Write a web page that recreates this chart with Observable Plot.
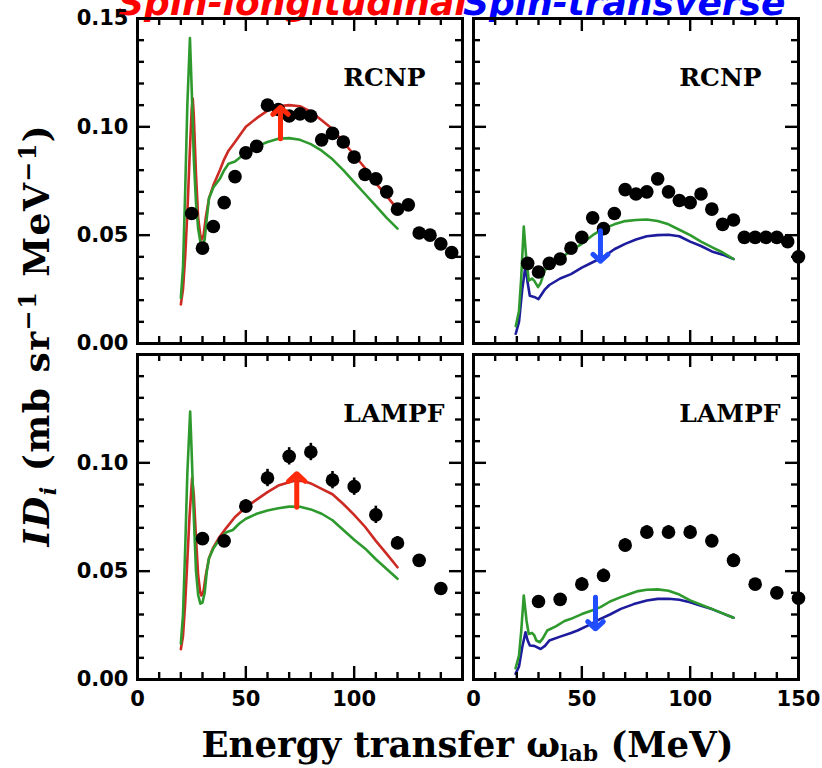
<!DOCTYPE html>
<html><head><meta charset="utf-8">
<script src="https://cdn.jsdelivr.net/npm/d3@7"></script>
<script src="https://cdn.jsdelivr.net/npm/@observablehq/plot@0.6"></script>
<style>
html,body{margin:0;padding:0;background:#fff;overflow:hidden;}
#wrap{position:relative;width:822px;height:768px;overflow:hidden;}
#wrap svg{position:absolute;left:0;top:0;}
.title{position:absolute;top:-15.5px;font-family:"DejaVu Sans";font-style:italic;font-weight:bold;font-size:36px;line-height:36px;white-space:nowrap;}
.xlab{position:absolute;left:467.5px;top:727px;transform:translateX(-50%);font-family:"DejaVu Serif";font-weight:bold;font-size:35.5px;line-height:35.5px;white-space:nowrap;}
.xlab .sub{top:0.2em;}
.ylab{position:absolute;left:17.5px;top:335px;transform-origin:0 0;transform:rotate(-90deg) translateX(-50%);font-family:"DejaVu Serif";font-weight:bold;font-size:36px;line-height:36px;letter-spacing:1.5px;white-space:nowrap;}
.sub{font-size:0.62em;position:relative;top:0.3em;}
.sup{font-size:0.66em;position:relative;top:-0.55em;}
</style></head><body>
<div id="wrap">
<div class="title" style="left:118px;color:#ff0000">Spin-longitudinal</div>
<div class="title" style="left:463px;color:#0000ff">Spin-transverse</div>
<div class="ylab"><i>ID</i><span class="sub"><i>i</i></span> (mb sr<span class="sup">−1</span> MeV<span class="sup">−1</span>)</div>
<div class="xlab">Energy transfer ω<span class="sub">lab</span> (MeV)</div>
</div>
<script>
// ---------- tick values ----------
const xMajor = [50, 100];
const xMinor = [10, 20, 30, 40, 60, 70, 80, 90, 110, 120, 130, 140];
const yMajor = [0.05, 0.10];
const yMinor = [0.01, 0.02, 0.03, 0.04, 0.06, 0.07, 0.08, 0.09, 0.11, 0.12, 0.13, 0.14];
const xLabelsLeft = [0, 50, 100];
const xLabelsRight = [0, 50, 100, 150];
const yLabelsTop = [0, 0.05, 0.10, 0.15];
const yLabelsBottom = [0, 0.05, 0.10];
const panelNames = ["RCNP", "LAMPF"];

// ---------- data: RCNP spin-longitudinal ----------
const rcnpLonX = [25, 30, 35, 40, 45, 50, 55, 60, 65, 70, 75, 80, 85, 90, 95, 100, 105, 110, 115, 120, 125, 130, 135, 140, 145];
const rcnpLonY = [0.060, 0.044, 0.054, 0.065, 0.077, 0.088, 0.091, 0.110, 0.108, 0.105, 0.106, 0.105, 0.094, 0.097, 0.093, 0.086, 0.078, 0.076, 0.070, 0.062, 0.064, 0.051, 0.050, 0.046, 0.042];
const rcnpLonRed = [[20,0.018],[21,0.025],[22,0.040],[23,0.060],[24,0.085],[25,0.108],[25.5,0.113],[26,0.105],[27,0.078],[28,0.058],[29,0.050],[29.7,0.048],[30.5,0.050],[31.5,0.058],[33,0.067],[35,0.073],[38,0.080],[40,0.085],[42,0.089],[45,0.093],[50,0.100],[55,0.104],[60,0.1075],[65,0.1095],[70,0.110],[75,0.1095],[80,0.107],[85,0.103],[90,0.099],[95,0.093],[100,0.087],[105,0.081],[110,0.074],[115,0.068],[120,0.062]];
const rcnpLonGreen = [[20,0.021],[21,0.035],[22,0.070],[23,0.110],[24.2,0.141],[25,0.118],[26,0.085],[27,0.065],[28,0.053],[29,0.047],[30,0.045],[31,0.048],[32,0.058],[33,0.067],[35,0.072],[38,0.076],[40,0.080],[42,0.083],[45,0.084],[50,0.088],[55,0.091],[60,0.093],[65,0.0945],[70,0.0948],[75,0.094],[80,0.092],[85,0.089],[90,0.085],[95,0.080],[100,0.0745],[105,0.069],[110,0.0635],[115,0.058],[120,0.053]];
const rcnpLonArrow = {x: 66, from: 0.0945, to: 0.109};

// ---------- data: RCNP spin-transverse ----------
const rcnpTrX = [25, 30, 35, 40, 45, 50, 55, 60, 65, 70, 75, 80, 85, 90, 95, 100, 105, 110, 115, 120, 125, 130, 135, 140, 145, 150];
const rcnpTrY = [0.037, 0.033, 0.037, 0.039, 0.044, 0.049, 0.058, 0.053, 0.060, 0.071, 0.069, 0.070, 0.076, 0.070, 0.066, 0.065, 0.069, 0.062, 0.055, 0.057, 0.049, 0.049, 0.049, 0.049, 0.047, 0.040];
const rcnpTrBlue = [[19.5,0.0045],[21,0.010],[22.5,0.025],[24,0.036],[25,0.028],[26,0.022],[28,0.0215],[30,0.0205],[31,0.022],[33,0.025],[35,0.027],[40,0.030],[45,0.032],[50,0.035],[55,0.0375],[60,0.040],[65,0.0435],[70,0.046],[75,0.048],[80,0.0495],[85,0.050],[90,0.0502],[95,0.0495],[100,0.047],[105,0.045],[110,0.0425],[115,0.041],[120,0.039]];
const rcnpTrGreen = [[19.5,0.008],[21,0.015],[22,0.030],[23.2,0.054],[24.3,0.040],[25.5,0.029],[27,0.030],[28,0.029],[29.8,0.026],[31,0.028],[33,0.034],[36,0.036],[40,0.039],[45,0.043],[50,0.046],[55,0.050],[60,0.053],[65,0.055],[70,0.0565],[75,0.057],[80,0.0572],[85,0.0565],[90,0.055],[95,0.0525],[100,0.050],[105,0.047],[110,0.0445],[115,0.042],[120,0.039]];
const rcnpTrArrow = {x: 58.6, from: 0.052, to: 0.038};

// ---------- data: LAMPF spin-longitudinal ----------
const lampfLonX = [30, 40, 50, 60, 70, 80, 90, 100, 110, 120, 130, 140];
const lampfLonY = [0.065, 0.064, 0.080, 0.093, 0.103, 0.105, 0.092, 0.089, 0.076, 0.063, 0.055, 0.042];
const lampfLonErr = [0.002, 0.002, 0.003, 0.004, 0.004, 0.004, 0.004, 0.004, 0.004, 0.003, 0.002, 0.002];
const lampfLonRed = [[20,0.014],[21,0.020],[22,0.035],[23,0.055],[24,0.075],[25.2,0.093],[26,0.085],[27,0.065],[28,0.048],[29,0.040],[29.5,0.0388],[30.5,0.041],[31.5,0.048],[33,0.056],[35,0.061],[38,0.066],[41,0.070],[45,0.075],[50,0.0795],[55,0.083],[60,0.0865],[65,0.0895],[70,0.091],[73,0.0918],[77,0.0915],[80,0.0905],[85,0.088],[90,0.0855],[95,0.081],[100,0.076],[105,0.0705],[110,0.064],[115,0.058],[120,0.0518]];
const lampfLonGreen = [[20,0.0165],[21,0.030],[22,0.060],[23,0.095],[24.3,0.1237],[25,0.105],[26,0.075],[27,0.050],[28,0.039],[29,0.035],[30,0.0355],[31,0.040],[32,0.050],[33,0.056],[35,0.0605],[38,0.065],[41,0.068],[44,0.069],[47,0.072],[50,0.0742],[55,0.0765],[60,0.078],[65,0.079],[70,0.0798],[75,0.0797],[80,0.0785],[85,0.0765],[90,0.0735],[95,0.069],[100,0.0645],[105,0.0605],[110,0.0555],[115,0.051],[120,0.0465]];
const lampfLonArrow = {x: 73.5, from: 0.0795, to: 0.095};

// ---------- data: LAMPF spin-transverse ----------
const lampfTrX = [30, 40, 50, 60, 70, 80, 90, 100, 110, 120, 130, 140, 150];
const lampfTrY = [0.036, 0.037, 0.044, 0.048, 0.062, 0.068, 0.068, 0.068, 0.064, 0.055, 0.044, 0.040, 0.0375];
const lampfTrErr = [0.002, 0.002, 0.003, 0.003, 0.003, 0.003, 0.003, 0.003, 0.003, 0.003, 0.002, 0.002, 0.002];
const lampfTrBlue = [[19.4,0.0026],[21,0.006],[22.5,0.015],[24,0.0218],[25,0.018],[26,0.0157],[28,0.0155],[31,0.0141],[33,0.0155],[35,0.018],[40,0.0198],[45,0.0215],[48,0.0226],[53,0.025],[58.6,0.028],[63,0.030],[68,0.0326],[74,0.0348],[80,0.0365],[85,0.0372],[90,0.0373],[95,0.0368],[100,0.0357],[105,0.034],[110,0.0325],[115,0.0305],[120,0.0285]];
const lampfTrGreen = [[19.4,0.0052],[21,0.011],[22,0.022],[23.2,0.0388],[24.5,0.027],[25.5,0.021],[27,0.0215],[28,0.0205],[29,0.018],[30.6,0.0172],[32,0.019],[34,0.0226],[38,0.0245],[42,0.027],[45,0.028],[50,0.0302],[55,0.032],[58.6,0.0334],[63,0.036],[68,0.038],[72,0.0395],[76,0.0408],[80,0.0414],[85,0.0416],[90,0.041],[95,0.0392],[100,0.0365],[105,0.0345],[110,0.0326],[115,0.0305],[120,0.0285]];
const lampfTrArrow = {x: 56.3, from: 0.038, to: 0.0234};

// ---------- colours ----------
const RED = "#cc2a22", GREEN = "#2e9a2e", BLUE = "#1c1c9c";
const ARROW_RED = "#ff2a0a", ARROW_BLUE = "#1f4dff";

const W = 822, H = 768;
const boxes = {
  TL: {l: 137, r: 462, t: 18, b: 343},
  TR: {l: 473, r: 798, t: 18, b: 343},
  BL: {l: 137, r: 462, t: 354, b: 679},
  BR: {l: 473, r: 798, t: 354, b: 679}
};

function pts(xs, ys, es) { return xs.map((x, i) => ({x, y: ys[i], e: es ? es[i] : 0})); }

function panel(box, cfg) {
  const fh = box.b - box.t, fw = box.r - box.l;
  const MAJ = 13, MIN = 7, TW = 2.4;
  const marks = [];
  for (const c of cfg.curves) {
    marks.push(Plot.line(c.data, {x: d => d[0], y: d => d[1], stroke: c.color, strokeWidth: 2.6, strokeLinejoin: "round"}));
  }
  if (cfg.err) marks.push(Plot.ruleX(cfg.dots, {x: "x", y1: d => d.y - d.e, y2: d => d.y + d.e, stroke: "black", strokeWidth: 2.6}));
  marks.push(Plot.dot(cfg.dots, {x: "x", y: "y", r: 6.8, fill: "black"}));
  marks.push(Plot.arrow([cfg.arrow], {x: "x", y1: "from", y2: "to", stroke: cfg.arrowColor, strokeWidth: 5, headLength: 17, headAngle: 95}));
  marks.push(Plot.text([cfg.name], {x: 95, y: 0.119, text: d => d, textAnchor: "start", lineAnchor: "bottom", fontFamily: "DejaVu Serif", fontWeight: "bold", fontSize: 25, fill: "black"}));
  // inward ticks on all four sides
  marks.push(Plot.tickX(xMinor, {x: d => d, insetTop: fh - MIN, strokeWidth: TW}));
  marks.push(Plot.tickX(xMinor, {x: d => d, insetBottom: fh - MIN, strokeWidth: TW}));
  marks.push(Plot.tickX(xMajor, {x: d => d, insetTop: fh - MAJ, strokeWidth: TW}));
  marks.push(Plot.tickX(xMajor, {x: d => d, insetBottom: fh - MAJ, strokeWidth: TW}));
  marks.push(Plot.tickY(yMinor, {y: d => d, insetRight: fw - MIN, strokeWidth: TW}));
  marks.push(Plot.tickY(yMinor, {y: d => d, insetLeft: fw - MIN, strokeWidth: TW}));
  marks.push(Plot.tickY(yMajor, {y: d => d, insetRight: fw - MAJ, strokeWidth: TW}));
  marks.push(Plot.tickY(yMajor, {y: d => d, insetLeft: fw - MAJ, strokeWidth: TW}));
  marks.push(Plot.frame({stroke: "black", strokeWidth: 3}));
  if (cfg.xLabels) marks.push(Plot.axisX({ticks: cfg.xLabels, tickSize: 0, tickPadding: 12, label: null, tickFormat: d => String(d)}));
  if (cfg.yLabels) marks.push(Plot.axisY({ticks: cfg.yLabels, tickSize: 0, tickPadding: 9, label: null, tickFormat: d3.format(".2f")}));
  return Plot.plot({
    width: W, height: H,
    marginLeft: box.l, marginRight: W - box.r, marginTop: box.t, marginBottom: H - box.b,
    x: {domain: [0, 150], axis: cfg.xLabels ? undefined : null},
    y: {domain: [0, 0.15], axis: cfg.yLabels ? undefined : null},
    style: {background: "transparent", overflow: "visible", fontFamily: "DejaVu Sans", fontWeight: "bold", fontSize: "21px", color: "black"},
    marks
  });
}

const wrap = document.getElementById("wrap");
wrap.appendChild(panel(boxes.TL, {
  dots: pts(rcnpLonX, rcnpLonY), err: false,
  curves: [{data: rcnpLonRed, color: RED}, {data: rcnpLonGreen, color: GREEN}],
  arrow: rcnpLonArrow, arrowColor: ARROW_RED, name: panelNames[0],
  yLabels: yLabelsTop
}));
wrap.appendChild(panel(boxes.TR, {
  dots: pts(rcnpTrX, rcnpTrY), err: false,
  curves: [{data: rcnpTrBlue, color: BLUE}, {data: rcnpTrGreen, color: GREEN}],
  arrow: rcnpTrArrow, arrowColor: ARROW_BLUE, name: panelNames[0]
}));
wrap.appendChild(panel(boxes.BL, {
  dots: pts(lampfLonX, lampfLonY, lampfLonErr), err: true,
  curves: [{data: lampfLonRed, color: RED}, {data: lampfLonGreen, color: GREEN}],
  arrow: lampfLonArrow, arrowColor: ARROW_RED, name: panelNames[1],
  xLabels: xLabelsLeft, yLabels: yLabelsBottom
}));
wrap.appendChild(panel(boxes.BR, {
  dots: pts(lampfTrX, lampfTrY, lampfTrErr), err: true,
  curves: [{data: lampfTrBlue, color: BLUE}, {data: lampfTrGreen, color: GREEN}],
  arrow: lampfTrArrow, arrowColor: ARROW_BLUE, name: panelNames[1],
  xLabels: xLabelsRight
}));
</script>
</body></html>
